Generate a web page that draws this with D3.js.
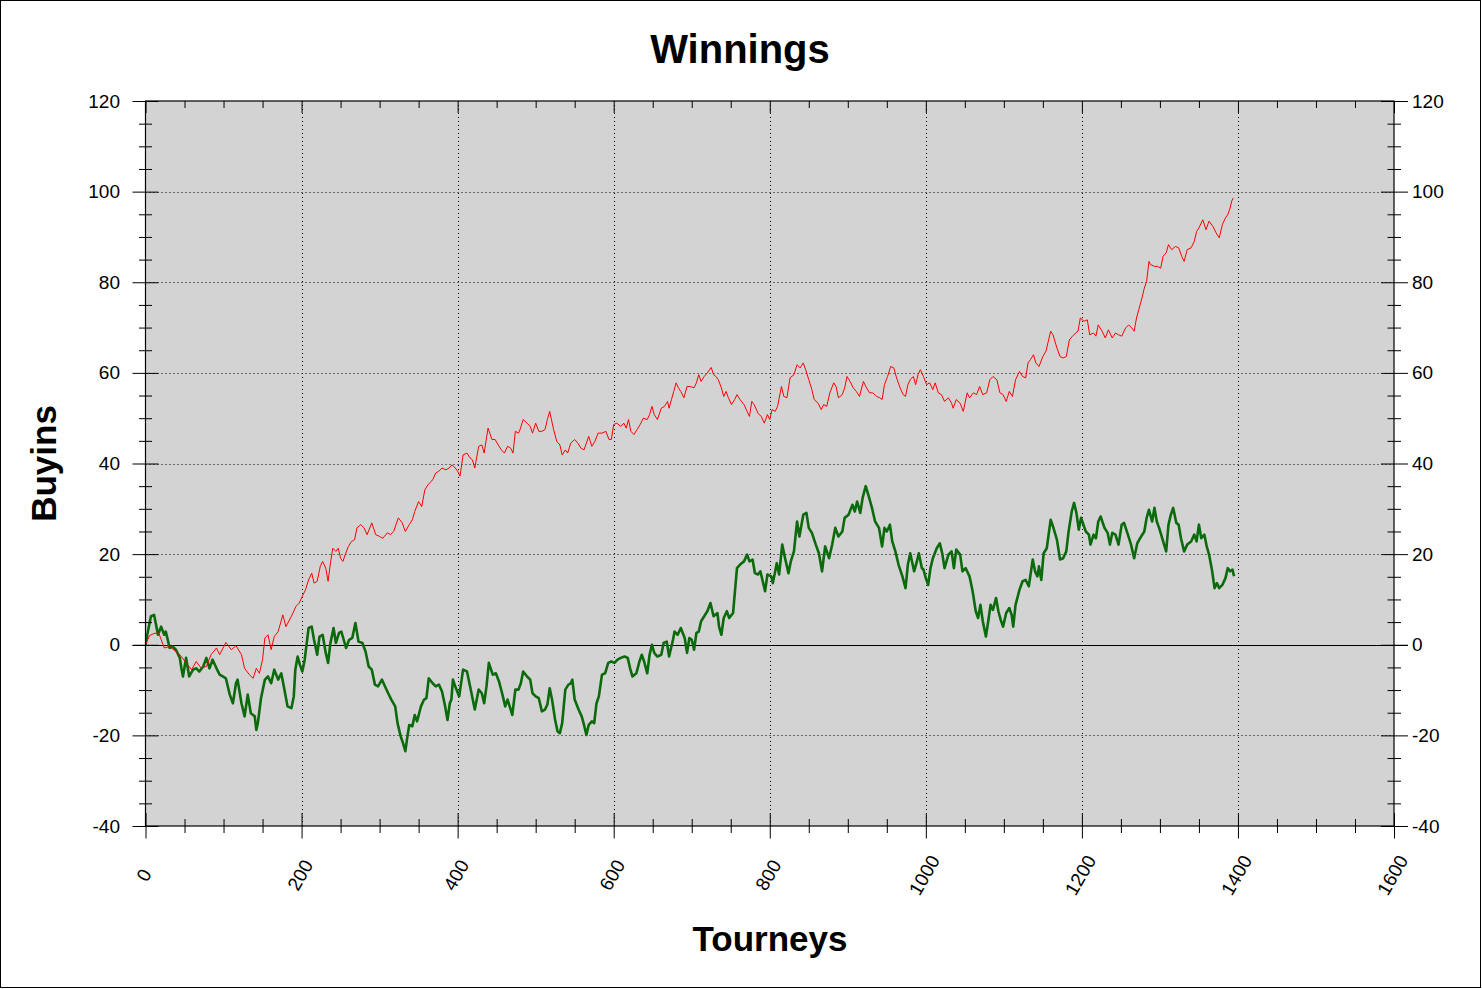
<!DOCTYPE html>
<html><head><meta charset="utf-8">
<script src="https://cdn.jsdelivr.net/npm/d3@7"></script>
<style>
html,body{margin:0;padding:0;background:#fff;}
svg{display:block;}
text{font-family:Arial,"Liberation Sans",sans-serif;fill:#000;}
</style></head><body>
<svg id="chart" width="1482" height="989"></svg>
<script>
// ---------- data ----------
const chartTitle = "Winnings";
const xTitle = "Tourneys";
const yTitle = "Buyins";
const xDomain = [0, 1600];
const yDomain = [-40, 120];
const xMajorTicks = [0, 200, 400, 600, 800, 1000, 1200, 1400, 1600];
const xMinorStep = 50;
const yMajorTicks = [-40, -20, 0, 20, 40, 60, 80, 100, 120];
const yMinorStep = 5;

// [tourney, buyins] – red (thin) series
const redSeries = [
[0,0],[5,2],[11,2.5],[17,2.6],[24,-0.7],[31,-0.4],[39,-1.5],[46,-2.6],[52,-4],[59,-5.5],[65,-3.7],[71,-5.1],[78,-4.8],[84,-2.2],[91,-0.7],[95,-2.2],[103,0.5],[110,-1.1],[116,-0.2],[123,-2.2],[127,-5.2],[133,-6.6],[138,-7.4],[142,-5.2],[146,-6.3],[150,-3.3],[153,1.5],[157,2.2],[161,-1.1],[165,1.8],[170,2.9],[176,6.6],[180,4.0],[187,6.3],[193,8.5],
[197,9.2],[201,10.7],[205,12.1],[209,14.3],[213,15.8],[216,13.6],[220,14.0],[224,17.3],[227,18.4],[231,16.9],[234,14.0],[237,18.0],[240,21.3],[244,20.6],[247,21.3],[250,19.1],[253,18.4],[256,19.9],[260,21.7],[264,22.8],[268,23.2],[271,25.8],[276,26.5],[280,25.8],[284,24.3],[290,26.9],[295,24.3],[300,23.9],[304,23.5],[310,24.7],[314,24.3],[318,25.0],[324,28.0],[329,26.9],[333,25.0],[338,26.5],[342,27.6],[345,29.4],[350,31.6],[354,30.5],[358,34.2],[362,35.3],[368,36.4],[372,37.9],[376,38.3],[380,39.0],[385,38.6],[389,39.0],[393,39.7],
[397,39.0],[400,38.3],[403,37.2],[407,41.9],[412,42.3],[416,41.2],[419,40.8],[422,39.0],[427,43.8],[431,44.1],[434,42.3],[439,47.8],[444,45.3],[448,45.3],[452,44.1],[456,43.0],[460,42.3],[464,43.8],[468,43.4],[471,42.3],[474,47.1],[478,46.7],[480,47.5],[484,49.7],[489,48.9],[493,48.2],[496,46.7],[500,48.9],[504,47.1],[508,47.1],[512,47.5],[515,49.7],[518,51.5],[523,47.5],[527,44.9],[531,44.1],[534,41.9],[538,43.0],[541,42.3],[545,44.5],[550,45.3],[554,44.5],[558,43.4],[562,43.0],[568,46.0],[572,43.8],[576,44.9],[580,46.7],[585,46.7],[590,47.1],[594,45.3],
[597,45.3],[600,48.6],[604,48.9],[609,48.2],[613,48.9],[616,47.8],[619,49.7],[622,47.1],[626,46.4],[630,47.5],[634,48.6],[638,50.0],[643,49.7],[646,50.8],[649,52.6],[652,50.8],[656,49.7],[661,52.2],[665,52.6],[669,53.7],[671,52.2],[674,54.1],[677,55.9],[680,57.8],[683,56.7],[686,55.9],[690,54.5],[694,57.0],[698,57.0],[703,56.7],[706,57.8],[709,59.6],[712,58.1],[716,59.2],[720,60.0],[725,61.2],[728,59.6],[731,59.2],[734,58.5],[738,56.7],[741,54.8],[744,55.9],[747,54.5],[751,53.0],[755,54.1],[758,55.2],[762,54.1],[767,53.0],[771,51.5],[774,50.4],[777,53.7],[780,53.0],[785,51.1],[789,50.4],[793,48.9],
[797,50.8],[800,49.7],[803,51.9],[807,51.5],[810,52.6],[815,57.0],[818,54.8],[822,54.5],[826,58.9],[831,59.6],[835,61.8],[839,61.1],[843,62.2],[846,60.7],[850,58.5],[854,56.3],[857,54.1],[862,53.3],[866,51.9],[869,53.0],[873,52.6],[877,55.6],[882,57.8],[885,57.0],[888,54.5],[893,55.2],[896,56.7],[899,59.2],[903,58.1],[907,56.7],[911,55.9],[915,54.8],[920,58.1],[924,56.7],[928,55.6],[932,55.6],[937,54.8],[941,54.5],[944,54.1],[947,57.4],[951,59.2],[955,61.4],[959,61.1],[962,59.2],[967,56.7],[971,55.2],[974,54.8],[977,57.4],[980,58.5],[984,59.2],[987,57.4],[990,59.6],[993,60.7],
[997,59.2],[1001,57.4],[1005,57.8],[1009,56.3],[1012,57.8],[1016,55.6],[1020,55.2],[1024,53.7],[1029,54.5],[1033,53.3],[1035,52.2],[1039,54.1],[1044,53.3],[1048,51.5],[1053,55.6],[1056,54.5],[1061,55.6],[1065,55.2],[1069,57.0],[1073,55.2],[1078,55.6],[1082,58.5],[1086,59.2],[1091,58.5],[1095,55.6],[1099,55.2],[1103,53.7],[1107,55.9],[1111,54.8],[1115,58.5],[1120,60.3],[1124,59.2],[1128,58.9],[1131,62.2],[1134,62.9],[1138,64.0],[1141,62.2],[1145,61.4],[1150,63.6],[1154,64.8],[1157,67.0],[1160,69.2],[1163,68.4],[1168,65.5],[1172,63.6],[1176,63.3],[1180,63.6],[1184,67.3],[1188,68.1],[1192,68.8],[1195,69.2],[1198,72.1],
[1203,71.4],[1207,71.7],[1210,68.4],[1215,68.8],[1218,68.1],[1221,70.6],[1226,69.2],[1230,67.7],[1234,69.5],[1239,67.7],[1243,68.8],[1247,68.4],[1251,68.1],[1256,69.9],[1260,70.6],[1264,69.9],[1267,69.2],[1270,72.1],[1273,74.0],[1277,76.5],[1280,78.7],[1283,80.2],[1286,84.6],[1288,83.9],[1293,83.5],[1297,83.5],[1301,83.1],[1304,85.7],[1308,86.5],[1311,88.3],[1315,87.2],[1320,87.9],[1324,87.6],[1328,85.7],[1331,84.6],[1335,87.2],[1340,87.6],[1344,89.0],[1347,91.2],[1350,92.0],[1355,93.8],[1359,91.6],[1363,93.5],[1368,92.3],[1372,90.9],[1376,89.8],[1380,92.7],[1384,94.2],[1387,94.9],[1390,96.4],[1392,97.9],[1394,98.6]
];

// [tourney, buyins] – green (thick) series
const greenSeries = [
[0,0],[3,2.9],[7,6.3],[11,6.6],[16,2.2],[20,4.0],[24,2.2],[26,2.9],[31,-0.7],[35,-0.4],[39,-1.1],[44,-2.9],[46,-5.2],[48,-7.0],[52,-2.9],[56,-7.0],[61,-5.5],[65,-5.2],[69,-5.9],[74,-4.8],[78,-2.9],[82,-5.2],[86,-3.3],[91,-5.2],[95,-6.6],[99,-7.0],[103,-7.4],[108,-11.0],[112,-12.9],[116,-8.5],[118,-7.7],[123,-12.9],[127,-15.8],[131,-11.0],[135,-15.1],[140,-15.8],[142,-18.8],[144,-17.3],[148,-11.8],[153,-7.7],[157,-7.0],[161,-8.5],[165,-5.5],[170,-7.7],[174,-6.3],[178,-9.9],[182,-13.6],[187,-14.0],[190,-11.4],[192,-5.5],[195,-2.6],[198,-4.5],
[201,-5.9],[204,-3.3],[209,3.7],[213,4.0],[216,1.1],[220,-2.2],[223,1.8],[227,2.2],[231,-1.8],[234,-4.0],[237,0.4],[241,3.7],[244,0.4],[248,2.6],[251,2.9],[254,1.1],[257,-0.7],[261,1.1],[265,1.5],[269,4.8],[273,0.7],[278,0.4],[282,-1.5],[286,-4.8],[290,-5.5],[294,-8.8],[298,-9.2],[303,-7.7],[307,-9.2],[311,-10.7],[315,-12.1],[320,-13.6],[323,-17.3],[327,-20.2],[330,-21.7],[333,-23.5],[335,-21.0],[338,-17.7],[342,-18.0],[345,-15.5],[348,-16.9],[353,-13.6],[357,-12.1],[360,-11.8],[363,-7.4],[368,-8.5],[372,-9.2],[376,-8.8],[380,-10.3],[384,-13.6],[387,-16.6],[390,-12.9],[392,-12.1],[394,-7.7],[397,-9.2],
[402,-11.4],[407,-5.5],[412,-5.9],[416,-9.2],[422,-14.3],[427,-9.9],[431,-10.7],[434,-12.9],[437,-9.2],[440,-4.0],[445,-6.6],[449,-6.3],[453,-8.1],[457,-10.7],[461,-13.6],[464,-12.1],[468,-14.3],[470,-15.5],[474,-9.9],[478,-9.9],[481,-8.5],[484,-5.9],[489,-7.0],[493,-7.7],[496,-10.7],[500,-11.4],[504,-11.8],[508,-14.7],[512,-14.3],[515,-13.2],[518,-9.6],[521,-12.1],[525,-16.6],[528,-19.1],[531,-19.5],[534,-17.3],[538,-9.9],[542,-8.8],[545,-8.5],[547,-7.7],[550,-12.1],[555,-14.3],[559,-15.8],[562,-17.7],[565,-19.9],[568,-17.7],[572,-16.9],[575,-17.3],[578,-12.9],[581,-11.4],[585,-6.6],[589,-6.3],[593,-4.0],
[597,-3.7],[601,-4.0],[605,-3.3],[609,-2.9],[614,-2.6],[618,-2.9],[621,-5.2],[624,-7.0],[629,-6.3],[633,-3.7],[636,-2.2],[639,-3.7],[643,-6.3],[646,-2.2],[649,0],[652,-1.8],[656,-2.6],[661,-2.2],[664,0.4],[668,0.7],[671,-2.6],[676,1.1],[678,2.9],[682,2.2],[686,3.7],[691,1.5],[694,-1.8],[697,1.5],[700,1.1],[703,-1.1],[706,2.6],[709,2.9],[712,5.2],[716,6.3],[720,7.4],[724,9.2],[728,6.3],[733,7.0],[735,4.0],[738,2.2],[741,5.9],[745,7.4],[748,5.9],[753,7.0],[755,11.0],[758,16.9],[762,17.7],[767,18.4],[771,19.9],[774,18.4],[778,18.8],[781,15.8],[785,15.5],[788,16.2],[791,14.0],[794,11.8],
[797,15.5],[802,15.1],[804,13.6],[809,18.0],[812,15.5],[816,22.1],[820,18.8],[824,15.8],[827,18.4],[831,20.6],[835,27.2],[838,23.9],[843,28.7],[847,29.1],[850,25.8],[854,24.7],[859,22.1],[863,20.2],[867,16.2],[871,21.7],[876,19.1],[880,22.1],[884,25.8],[888,23.9],[893,25.0],[896,28.0],[901,28.7],[906,30.9],[909,29.4],[912,31.6],[916,29.1],[919,32.4],[923,35.0],[927,32.7],[931,30.2],[935,27.2],[940,25.8],[944,21.7],[947,25.8],[950,25.0],[954,26.5],[957,22.8],[961,20.6],[965,17.7],[970,15.1],[974,12.5],[977,17.7],[980,20.2],[985,16.2],[988,18.0],[991,20.2],[995,16.9],
[997,16.6],[1000,14.7],[1003,13.2],[1006,16.9],[1009,19.1],[1014,21.3],[1018,22.4],[1021,20.2],[1024,16.9],[1029,19.9],[1033,20.6],[1036,16.9],[1039,21.0],[1044,19.9],[1047,16.2],[1051,16.9],[1056,15.1],[1060,11.8],[1064,7.4],[1067,5.9],[1070,8.8],[1073,5.2],[1077,1.8],[1080,5.2],[1083,8.8],[1086,7.7],[1090,10.3],[1093,7.4],[1096,5.5],[1099,4.0],[1103,7.0],[1107,8.1],[1110,6.6],[1112,4.0],[1115,8.8],[1120,12.1],[1124,14.0],[1128,14.3],[1132,12.9],[1137,18.8],[1140,16.2],[1143,15.1],[1145,17.3],[1148,14.3],[1151,20.2],[1155,21.3],[1160,27.6],[1163,26.1],[1168,23.2],[1172,18.8],[1176,19.1],[1180,20.6],[1183,25.0],[1187,29.4],[1190,31.3],[1193,29.1],
[1196,25.4],[1199,28.0],[1202,26.5],[1205,25.0],[1209,24.3],[1211,22.1],[1215,24.3],[1218,23.5],[1221,27.2],[1224,28.3],[1229,25.8],[1233,24.7],[1236,22.1],[1239,24.7],[1243,24.3],[1247,22.1],[1251,26.5],[1254,26.9],[1259,24.3],[1263,22.1],[1267,19.1],[1271,22.4],[1276,23.9],[1280,25.0],[1283,28.0],[1286,29.8],[1290,27.2],[1293,30.2],[1296,27.2],[1299,25.8],[1303,23.5],[1308,20.6],[1311,26.5],[1314,28.7],[1317,30.2],[1321,26.9],[1324,26.5],[1327,23.5],[1331,20.6],[1335,22.1],[1340,22.8],[1344,24.3],[1347,22.8],[1350,26.5],[1353,23.5],[1357,24.3],[1360,21.7],[1363,19.9],[1367,16.2],[1370,12.5],[1373,13.6],[1376,12.5],[1380,13.2],[1384,14.7],[1387,16.9],[1390,16.2],[1393,16.6],[1395,15.1]
];

// ---------- drawing ----------
const W = 1482, H = 989;
const plot = {left: 145.5, right: 1394, top: 101, bottom: 826};
const svg = d3.select("#chart");

const x = d3.scaleLinear().domain(xDomain).range([plot.left, plot.right]);
const y = d3.scaleLinear().domain(yDomain).range([plot.bottom, plot.top]);

const xMinor = d3.range(xDomain[0], xDomain[1] + 1, xMinorStep).filter(v => !xMajorTicks.includes(v));
const yMinor = d3.range(yDomain[0], yDomain[1] + 1, yMinorStep).filter(v => !yMajorTicks.includes(v));
const fmt = d => String(d);

// outer frame
svg.append("rect").attr("x", 0.5).attr("y", 0.5).attr("width", W - 2).attr("height", H - 2)
  .attr("fill", "#fff").attr("stroke", "#000").attr("stroke-width", 1);

// plot background
svg.append("rect").attr("x", plot.left).attr("y", plot.top)
  .attr("width", plot.right - plot.left).attr("height", plot.bottom - plot.top)
  .attr("fill", "#d3d3d3");

// dotted grid
const grid = svg.append("g").attr("stroke", "#000").attr("stroke-width", 1).attr("stroke-dasharray", "1,3");
grid.selectAll("line.gx").data(xMajorTicks.slice(1, -1)).join("line")
  .attr("class", "gx")
  .attr("x1", d => Math.round(x(d)) + 0.5).attr("x2", d => Math.round(x(d)) + 0.5)
  .attr("y1", plot.top).attr("y2", plot.bottom);
grid.selectAll("line.gy").data(yMajorTicks.slice(1, -1).filter(d => d !== 0)).join("line")
  .attr("class", "gy")
  .attr("y1", d => Math.round(y(d)) + 0.5).attr("y2", d => Math.round(y(d)) + 0.5)
  .attr("x1", plot.left).attr("x2", plot.right);

// zero line
svg.append("line").attr("x1", plot.left - 13).attr("x2", plot.right + 14)
  .attr("y1", Math.round(y(0)) + 0.5).attr("y2", Math.round(y(0)) + 0.5)
  .attr("stroke", "#000").attr("stroke-width", 1);

// series
svg.append("clipPath").attr("id", "clip").append("rect")
  .attr("x", plot.left).attr("y", plot.top)
  .attr("width", plot.right - plot.left).attr("height", plot.bottom - plot.top);
const line = d3.line().x(d => x(d[0])).y(d => y(d[1]));
const series = svg.append("g").attr("clip-path", "url(#clip)");
series.append("path").datum(greenSeries).attr("d", line)
  .attr("fill", "none").attr("stroke", "#0b6a0b").attr("stroke-width", 2.6)
  .attr("stroke-linejoin", "round");
series.append("path").datum(redSeries).attr("d", line)
  .attr("fill", "none").attr("stroke", "#ff0000").attr("stroke-width", 1);

// axes with d3 axis generators
function axisGroup(gen, tx, ty) {
  const g = svg.append("g").attr("transform", `translate(${tx},${ty})`).call(gen);
  g.select(".domain").remove();
  g.selectAll("line").attr("stroke", "#000").attr("stroke-width", 1);
  return g;
}
const noLab = () => "";
// bottom axis
axisGroup(d3.axisBottom(x).tickValues(xMinor).tickSize(7).tickFormat(noLab), 0, plot.bottom);
axisGroup(d3.axisTop(x).tickValues(xMinor).tickSize(7).tickFormat(noLab), 0, plot.bottom);
axisGroup(d3.axisBottom(x).tickValues(xMajorTicks).tickSize(12.5).tickFormat(noLab), 0, plot.bottom);
axisGroup(d3.axisTop(x).tickValues(xMajorTicks).tickSize(13).tickFormat(noLab), 0, plot.bottom);
// top axis (inside ticks only)
axisGroup(d3.axisBottom(x).tickValues(xMinor).tickSize(7).tickFormat(noLab), 0, plot.top);
axisGroup(d3.axisBottom(x).tickValues(xMajorTicks).tickSize(12).tickFormat(noLab), 0, plot.top);
// left axis
axisGroup(d3.axisLeft(y).tickValues(yMinor).tickSize(6.5).tickFormat(noLab), plot.left, 0);
axisGroup(d3.axisRight(y).tickValues(yMinor).tickSize(6.5).tickFormat(noLab), plot.left, 0);
const yl = axisGroup(d3.axisLeft(y).tickValues(yMajorTicks).tickSize(13).tickPadding(12.5).tickFormat(fmt), plot.left, 0);
axisGroup(d3.axisRight(y).tickValues(yMajorTicks).tickSize(13).tickFormat(noLab), plot.left, 0);
// right axis
axisGroup(d3.axisRight(y).tickValues(yMinor).tickSize(7).tickFormat(noLab), plot.right, 0);
axisGroup(d3.axisLeft(y).tickValues(yMinor).tickSize(6.5).tickFormat(noLab), plot.right, 0);
const yr = axisGroup(d3.axisRight(y).tickValues(yMajorTicks).tickSize(14).tickPadding(4).tickFormat(fmt), plot.right, 0);
axisGroup(d3.axisLeft(y).tickValues(yMajorTicks).tickSize(13).tickFormat(noLab), plot.right, 0);
[yl, yr].forEach(g => g.selectAll("text")
  .attr("font-family", "Arial, 'Liberation Sans', sans-serif").attr("font-size", 19).attr("fill", "#000"));

// frame of plot
svg.append("rect").attr("x", plot.left).attr("y", plot.top)
  .attr("width", plot.right - plot.left).attr("height", plot.bottom - plot.top)
  .attr("fill", "none").attr("stroke", "#000").attr("stroke-width", 1.2);

// x tick labels (rotated)
svg.append("g").selectAll("text").data(xMajorTicks).join("text")
  .attr("transform", d => `translate(${x(d) - 1.5},875) rotate(-60)`)
  .attr("text-anchor", "middle").attr("dy", "0.35em")
  .attr("font-size", 19)
  .text(fmt);

// titles
svg.append("text").attr("x", 740).attr("y", 63).attr("text-anchor", "middle")
  .attr("font-size", 40).attr("font-weight", "bold").text(chartTitle);
svg.append("text").attr("x", 770).attr("y", 951).attr("text-anchor", "middle")
  .attr("font-size", 35).attr("font-weight", "bold").text(xTitle);
svg.append("text").attr("transform", "translate(56,463.5) rotate(-90)").attr("text-anchor", "middle")
  .attr("font-size", 35).attr("font-weight", "bold").text(yTitle);
</script>
</body></html>
